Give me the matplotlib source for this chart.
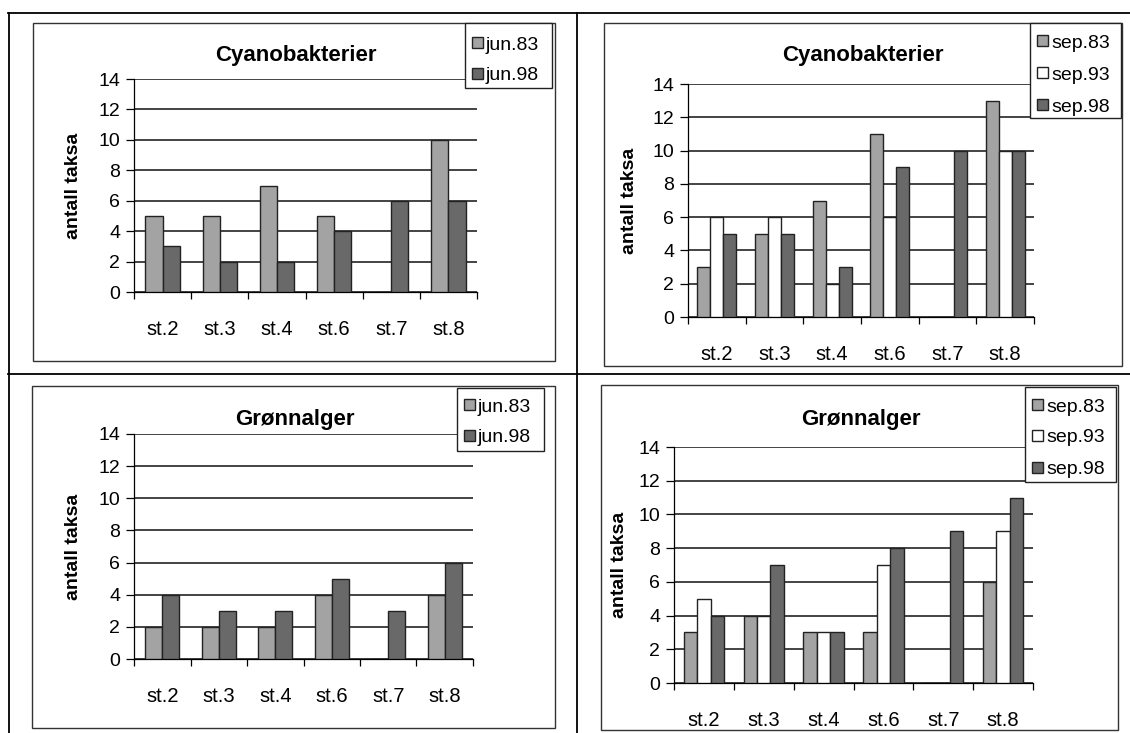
import matplotlib
matplotlib.use("Agg")
import matplotlib.pyplot as plt
import numpy as np
from matplotlib.patches import Rectangle
from matplotlib.lines import Line2D

plt.rcParams['font.family'] = ['Liberation Sans', 'DejaVu Sans']

stations = ["st.2", "st.3", "st.4", "st.6", "st.7", "st.8"]
yticks = [0, 2, 4, 6, 8, 10, 12, 14]

cyano_jun_labels = ["jun.83", "jun.98"]
cyano_jun83 = [5, 5, 7, 5, 0, 10]
cyano_jun98 = [3, 2, 2, 4, 6, 6]

cyano_sep_labels = ["sep.83", "sep.93", "sep.98"]
cyano_sep83 = [3, 5, 7, 11, 0, 13]
cyano_sep93 = [6, 6, 2, 6, 0, 10]
cyano_sep98 = [5, 5, 3, 9, 10, 10]

gronn_jun_labels = ["jun.83", "jun.98"]
gronn_jun83 = [2, 2, 2, 4, 0, 4]
gronn_jun98 = [4, 3, 3, 5, 3, 6]

gronn_sep_labels = ["sep.83", "sep.93", "sep.98"]
gronn_sep83 = [3, 4, 3, 3, 0, 6]
gronn_sep93 = [5, 4, 3, 7, 0, 9]
gronn_sep98 = [4, 7, 3, 8, 9, 11]

LIGHT = "#a3a3a3"
DARK = "#696969"
WHITE = "#ffffff"

W, H = 1130, 733
fig = plt.figure(figsize=(W / 100, H / 100), dpi=100)
fig.patch.set_facecolor("white")


def rect(x0, y0, x1, y1):
    return [x0 / W, 1 - y1 / H, (x1 - x0) / W, (y1 - y0) / H]


def fline(xs, ys, lw=1.3, color="black"):
    fig.add_artist(Line2D([x / W for x in xs], [1 - y / H for y in ys],
                          transform=fig.transFigure, color=color, lw=lw))


def fbox(x0, y0, x1, y1, fc="none", ec="#333333", lw=1.0, z=1):
    fig.add_artist(Rectangle((x0 / W, 1 - y1 / H), (x1 - x0) / W, (y1 - y0) / H,
                             transform=fig.transFigure, facecolor=fc,
                             edgecolor=ec, lw=lw, zorder=z))


# table lines
fline([8, 1130], [13, 13])
fline([9, 9], [13, 733])
fline([577, 577], [13, 733])
fline([8, 1130], [374, 374])


def legend_box(box, entry_y, labels, colors):
    x0, y0, x1, y1 = box
    fbox(x0, y0, x1, y1, fc="white", ec="#222222", lw=1.0, z=5)
    for yy, lab, col in zip(entry_y, labels, colors):
        fbox(x0 + 7, yy - 8, x0 + 18, yy + 3, fc=col, ec="#222222", lw=1.0, z=6)
        fig.text((x0 + 21) / W, 1 - yy / H, lab, fontsize=14, ha="left",
                 va="center", zorder=7)


def panel(box, axrect, title, title_xy, series, labels, colors, width,
          leg_box, leg_y, label_off):
    fbox(*box)
    ax = fig.add_axes(rect(*axrect))
    ax.patch.set_alpha(0)
    n = len(series)
    x = np.arange(len(stations))
    for i, (vals, lab, col) in enumerate(zip(series, labels, colors)):
        off = (i - (n - 1) / 2) * width
        ax.bar(x + off, vals, width, color=col, edgecolor="#222222",
               linewidth=1.0, label=lab, zorder=3)
    ax.set_xlim(-0.5, len(stations) - 0.5)
    ax.set_ylim(0, 14)
    ax.set_yticks(yticks)
    ax.set_yticklabels([str(t) for t in yticks], fontsize=14)
    ax.set_xticks(x)
    ax.set_xticklabels(stations, fontsize=14.5)
    ax.set_xticks(np.arange(len(stations) + 1) - 0.5, minor=True)
    ax.tick_params(axis="x", which="major", length=0, pad=20)
    ax.tick_params(axis="x", which="minor", length=5, direction="out", width=0.9)
    ax.tick_params(axis="y", length=6, direction="out", pad=4, width=0.9)
    ax.yaxis.grid(True, color="#111111", linewidth=1.1, zorder=0)
    ax.set_axisbelow(True)
    for s in ["top", "right"]:
        ax.spines[s].set_visible(False)
    ax.spines["left"].set_linewidth(0.9)
    ax.spines["bottom"].set_linewidth(0.9)
    ax.set_ylabel("antall taksa", fontsize=14, fontweight="bold")
    axw = axrect[2] - axrect[0]
    ax.yaxis.set_label_coords(-label_off / axw, 0.5)
    fig.text(title_xy[0] / W, 1 - title_xy[1] / H, title, fontsize=16,
             fontweight="bold", ha="center", va="center")
    legend_box(leg_box, leg_y, labels, colors)
    return ax


panel((33, 23, 555, 361), (134, 79, 477, 292), "Cyanobakterier", (296, 55),
      [cyano_jun83, cyano_jun98], cyano_jun_labels, [LIGHT, DARK], 0.30,
      (465, 23, 552, 88), [45, 76], 52)

panel((604, 23, 1122, 366), (688, 84, 1034, 317), "Cyanobakterier", (863, 55),
      [cyano_sep83, cyano_sep93, cyano_sep98], cyano_sep_labels, [LIGHT, WHITE, DARK],
      0.225, (1030, 23, 1121, 118), [43, 75, 107], 50)

panel((32, 386, 555, 728), (134, 434, 473, 659), "Grønnalger", (295, 419),
      [gronn_jun83, gronn_jun98], gronn_jun_labels, [LIGHT, DARK], 0.30,
      (457, 388, 544, 451), [407, 438], 52)

panel((601, 385, 1118, 730), (674, 447, 1033, 683), "Grønnalger", (861, 419),
      [gronn_sep83, gronn_sep93, gronn_sep98], gronn_sep_labels, [LIGHT, WHITE, DARK],
      0.225, (1025, 387, 1116, 482), [407, 438, 470], 46)

fig.savefig("out.png", dpi=100)
